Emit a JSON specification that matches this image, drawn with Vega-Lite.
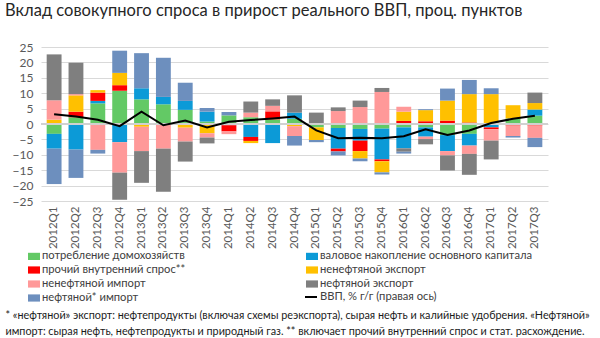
{
  "$schema": "https://vega.github.io/schema/vega-lite/v6.json",
  "width": 507,
  "height": 154,
  "autosize": {"type": "none"},
  "padding": {"left": 41, "top": 47, "right": 52, "bottom": 137},
  "background": "white",
  "config": {"view": {"stroke": null}, "font": "Lato", "axis": {"labelOverlap": false}},
  "title": {
    "text": "Вклад совокупного спроса в прирост реального ВВП, проц. пунктов",
    "anchor": "start",
    "frame": "group",
    "dx": -36,
    "offset": 22,
    "font": "Lato",
    "fontSize": 16.5,
    "fontWeight": "normal",
    "color": "#262626"
  },
  "datasets": {
    "bars": [
      {"q":"2012Q1","s":"потребление домохозяйств","v":-3.2},
      {"q":"2012Q1","s":"валовое накопление основного капитала","v":-4.8},
      {"q":"2012Q1","s":"ненефтяной экспорт","v":1.4},
      {"q":"2012Q1","s":"ненефтяной импорт","v":6.3},
      {"q":"2012Q1","s":"нефтяной экспорт","v":14.9},
      {"q":"2012Q1","s":"нефтяной* импорт","v":-11.5},
      {"q":"2012Q2","s":"потребление домохозяйств","v":2.2},
      {"q":"2012Q2","s":"валовое накопление основного капитала","v":-8.3},
      {"q":"2012Q2","s":"прочий внутренний спрос**","v":1.8},
      {"q":"2012Q2","s":"ненефтяной экспорт","v":5.3},
      {"q":"2012Q2","s":"ненефтяной импорт","v":0.4},
      {"q":"2012Q2","s":"нефтяной экспорт","v":10.2},
      {"q":"2012Q2","s":"нефтяной* импорт","v":-9.2},
      {"q":"2012Q3","s":"потребление домохозяйств","v":6.7},
      {"q":"2012Q3","s":"валовое накопление основного капитала","v":0.8},
      {"q":"2012Q3","s":"прочий внутренний спрос**","v":2.7},
      {"q":"2012Q3","s":"ненефтяной экспорт","v":0.8},
      {"q":"2012Q3","s":"ненефтяной импорт","v":-8.4},
      {"q":"2012Q3","s":"нефтяной* импорт","v":-1.2},
      {"q":"2012Q4","s":"потребление домохозяйств","v":10.8},
      {"q":"2012Q4","s":"валовое накопление основного капитала","v":-5.9},
      {"q":"2012Q4","s":"прочий внутренний спрос**","v":1.8},
      {"q":"2012Q4","s":"ненефтяной экспорт","v":4.0},
      {"q":"2012Q4","s":"ненефтяной импорт","v":-9.9},
      {"q":"2012Q4","s":"нефтяной экспорт","v":-8.8},
      {"q":"2012Q4","s":"нефтяной* импорт","v":7.2},
      {"q":"2013Q1","s":"потребление домохозяйств","v":8.0},
      {"q":"2013Q1","s":"валовое накопление основного капитала","v":3.6},
      {"q":"2013Q1","s":"ненефтяной экспорт","v":-0.9},
      {"q":"2013Q1","s":"ненефтяной импорт","v":-7.9},
      {"q":"2013Q1","s":"нефтяной экспорт","v":-10.3},
      {"q":"2013Q1","s":"нефтяной* импорт","v":11.4},
      {"q":"2013Q2","s":"потребление домохозяйств","v":6.4},
      {"q":"2013Q2","s":"валовое накопление основного капитала","v":2.4},
      {"q":"2013Q2","s":"ненефтяной импорт","v":-8.0},
      {"q":"2013Q2","s":"нефтяной экспорт","v":-14.0},
      {"q":"2013Q2","s":"нефтяной* импорт","v":12.7},
      {"q":"2013Q3","s":"потребление домохозяйств","v":4.6},
      {"q":"2013Q3","s":"валовое накопление основного капитала","v":2.9},
      {"q":"2013Q3","s":"ненефтяной экспорт","v":-1.2},
      {"q":"2013Q3","s":"ненефтяной импорт","v":-4.5},
      {"q":"2013Q3","s":"нефтяной экспорт","v":-6.5},
      {"q":"2013Q3","s":"нефтяной* импорт","v":5.9},
      {"q":"2013Q4","s":"потребление домохозяйств","v":0.8},
      {"q":"2013Q4","s":"валовое накопление основного капитала","v":3.2},
      {"q":"2013Q4","s":"ненефтяной экспорт","v":-3.0},
      {"q":"2013Q4","s":"ненефтяной импорт","v":-1.4},
      {"q":"2013Q4","s":"нефтяной экспорт","v":-1.9},
      {"q":"2013Q4","s":"нефтяной* импорт","v":1.2},
      {"q":"2014Q1","s":"потребление домохозяйств","v":2.8},
      {"q":"2014Q1","s":"валовое накопление основного капитала","v":-0.4},
      {"q":"2014Q1","s":"прочий внутренний спрос**","v":-2.0},
      {"q":"2014Q1","s":"ненефтяной импорт","v":-0.9},
      {"q":"2014Q1","s":"нефтяной* импорт","v":1.1},
      {"q":"2014Q2","s":"потребление домохозяйств","v":2.2},
      {"q":"2014Q2","s":"валовое накопление основного капитала","v":-4.2},
      {"q":"2014Q2","s":"прочий внутренний спрос**","v":-1.3},
      {"q":"2014Q2","s":"ненефтяной экспорт","v":-0.7},
      {"q":"2014Q2","s":"ненефтяной импорт","v":1.5},
      {"q":"2014Q2","s":"нефтяной экспорт","v":3.6},
      {"q":"2014Q3","s":"потребление домохозяйств","v":1.5},
      {"q":"2014Q3","s":"валовое накопление основного капитала","v":-6.2},
      {"q":"2014Q3","s":"прочий внутренний спрос**","v":2.6},
      {"q":"2014Q3","s":"ненефтяной импорт","v":1.8},
      {"q":"2014Q3","s":"нефтяной экспорт","v":2.1},
      {"q":"2014Q4","s":"потребление домохозяйств","v":1.7},
      {"q":"2014Q4","s":"валовое накопление основного капитала","v":2.0},
      {"q":"2014Q4","s":"прочий внутренний спрос**","v":-0.3},
      {"q":"2014Q4","s":"ненефтяной экспорт","v":-0.4},
      {"q":"2014Q4","s":"ненефтяной импорт","v":-3.2},
      {"q":"2014Q4","s":"нефтяной экспорт","v":5.6},
      {"q":"2014Q4","s":"нефтяной* импорт","v":-3.1},
      {"q":"2015Q1","s":"потребление домохозяйств","v":-1.1},
      {"q":"2015Q1","s":"валовое накопление основного капитала","v":0.2},
      {"q":"2015Q1","s":"ненефтяной экспорт","v":-4.1},
      {"q":"2015Q1","s":"нефтяной экспорт","v":3.5},
      {"q":"2015Q1","s":"нефтяной* импорт","v":-0.7},
      {"q":"2015Q2","s":"потребление домохозяйств","v":-1.3},
      {"q":"2015Q2","s":"валовое накопление основного капитала","v":-6.7},
      {"q":"2015Q2","s":"прочий внутренний спрос**","v":-0.9},
      {"q":"2015Q2","s":"ненефтяной импорт","v":4.2},
      {"q":"2015Q2","s":"нефтяной экспорт","v":1.2},
      {"q":"2015Q2","s":"нефтяной* импорт","v":-1.3},
      {"q":"2015Q3","s":"потребление домохозяйств","v":-1.6},
      {"q":"2015Q3","s":"валовое накопление основного капитала","v":-3.8},
      {"q":"2015Q3","s":"прочий внутренний спрос**","v":-3.4},
      {"q":"2015Q3","s":"ненефтяной экспорт","v":-2.4},
      {"q":"2015Q3","s":"ненефтяной импорт","v":5.5},
      {"q":"2015Q3","s":"нефтяной экспорт","v":2.1},
      {"q":"2015Q3","s":"нефтяной* импорт","v":-0.9},
      {"q":"2015Q4","s":"потребление домохозяйств","v":-1.5},
      {"q":"2015Q4","s":"валовое накопление основного капитала","v":-10.0},
      {"q":"2015Q4","s":"прочий внутренний спрос**","v":-0.6},
      {"q":"2015Q4","s":"ненефтяной экспорт","v":-3.6},
      {"q":"2015Q4","s":"ненефтяной импорт","v":10.4},
      {"q":"2015Q4","s":"нефтяной экспорт","v":1.3},
      {"q":"2015Q4","s":"нефтяной* импорт","v":-0.7},
      {"q":"2016Q1","s":"потребление домохозяйств","v":-1.1},
      {"q":"2016Q1","s":"валовое накопление основного капитала","v":-6.8},
      {"q":"2016Q1","s":"прочий внутренний спрос**","v":1.0},
      {"q":"2016Q1","s":"ненефтяной экспорт","v":3.0},
      {"q":"2016Q1","s":"ненефтяной импорт","v":1.6},
      {"q":"2016Q1","s":"нефтяной экспорт","v":-1.1},
      {"q":"2016Q1","s":"нефтяной* импорт","v":-0.6},
      {"q":"2016Q2","s":"потребление домохозяйств","v":-1.1},
      {"q":"2016Q2","s":"валовое накопление основного капитала","v":-3.0},
      {"q":"2016Q2","s":"прочий внутренний спрос**","v":0.9},
      {"q":"2016Q2","s":"ненефтяной экспорт","v":3.6},
      {"q":"2016Q2","s":"ненефтяной импорт","v":-0.8},
      {"q":"2016Q2","s":"нефтяной экспорт","v":-1.7},
      {"q":"2016Q2","s":"нефтяной* импорт","v":0.3},
      {"q":"2016Q3","s":"потребление домохозяйств","v":-3.6},
      {"q":"2016Q3","s":"валовое накопление основного капитала","v":-5.2},
      {"q":"2016Q3","s":"прочий внутренний спрос**","v":1.1},
      {"q":"2016Q3","s":"ненефтяной экспорт","v":6.5},
      {"q":"2016Q3","s":"ненефтяной импорт","v":-1.4},
      {"q":"2016Q3","s":"нефтяной экспорт","v":-4.9},
      {"q":"2016Q3","s":"нефтяной* импорт","v":3.9},
      {"q":"2016Q4","s":"потребление домохозяйств","v":-3.2},
      {"q":"2016Q4","s":"валовое накопление основного капитала","v":-3.8},
      {"q":"2016Q4","s":"прочий внутренний спрос**","v":0.5},
      {"q":"2016Q4","s":"ненефтяной экспорт","v":9.2},
      {"q":"2016Q4","s":"ненефтяной импорт","v":-2.7},
      {"q":"2016Q4","s":"нефтяной экспорт","v":-6.8},
      {"q":"2016Q4","s":"нефтяной* импорт","v":4.6},
      {"q":"2017Q1","s":"потребление домохозяйств","v":0.2},
      {"q":"2017Q1","s":"валовое накопление основного капитала","v":-1.1},
      {"q":"2017Q1","s":"прочий внутренний спрос**","v":-0.6},
      {"q":"2017Q1","s":"ненефтяной экспорт","v":9.5},
      {"q":"2017Q1","s":"ненефтяной импорт","v":-3.7},
      {"q":"2017Q1","s":"нефтяной экспорт","v":-6.1},
      {"q":"2017Q1","s":"нефтяной* импорт","v":1.9},
      {"q":"2017Q2","s":"потребление домохозяйств","v":1.8},
      {"q":"2017Q2","s":"прочий внутренний спрос**","v":-0.5},
      {"q":"2017Q2","s":"ненефтяной экспорт","v":4.3},
      {"q":"2017Q2","s":"ненефтяной импорт","v":-3.4},
      {"q":"2017Q2","s":"нефтяной* импорт","v":-0.5},
      {"q":"2017Q3","s":"потребление домохозяйств","v":2.7},
      {"q":"2017Q3","s":"валовое накопление основного капитала","v":2.0},
      {"q":"2017Q3","s":"прочий внутренний спрос**","v":-0.5},
      {"q":"2017Q3","s":"ненефтяной экспорт","v":2.1},
      {"q":"2017Q3","s":"ненефтяной импорт","v":-4.0},
      {"q":"2017Q3","s":"нефтяной экспорт","v":3.4},
      {"q":"2017Q3","s":"нефтяной* импорт","v":-3.0}
    ],
    "gdp": [
      {"q":"2012Q1","s":"ВВП, % г/г (правая ось)","v":3.2},
      {"q":"2012Q2","s":"ВВП, % г/г (правая ось)","v":2.4},
      {"q":"2012Q3","s":"ВВП, % г/г (правая ось)","v":1.4},
      {"q":"2012Q4","s":"ВВП, % г/г (правая ось)","v":-0.7},
      {"q":"2013Q1","s":"ВВП, % г/г (правая ось)","v":4.0},
      {"q":"2013Q2","s":"ВВП, % г/г (правая ось)","v":-0.4},
      {"q":"2013Q3","s":"ВВП, % г/г (правая ось)","v":1.1},
      {"q":"2013Q4","s":"ВВП, % г/г (правая ось)","v":-1.1},
      {"q":"2014Q1","s":"ВВП, % г/г (правая ось)","v":0.7},
      {"q":"2014Q2","s":"ВВП, % г/г (правая ось)","v":1.3},
      {"q":"2014Q3","s":"ВВП, % г/г (правая ось)","v":1.8},
      {"q":"2014Q4","s":"ВВП, % г/г (правая ось)","v":2.4},
      {"q":"2015Q1","s":"ВВП, % г/г (правая ось)","v":-2.1},
      {"q":"2015Q2","s":"ВВП, % г/г (правая ось)","v":-4.6},
      {"q":"2015Q3","s":"ВВП, % г/г (правая ось)","v":-4.5},
      {"q":"2015Q4","s":"ВВП, % г/г (правая ось)","v":-4.6},
      {"q":"2016Q1","s":"ВВП, % г/г (правая ось)","v":-4.0},
      {"q":"2016Q2","s":"ВВП, % г/г (правая ось)","v":-1.7},
      {"q":"2016Q3","s":"ВВП, % г/г (правая ось)","v":-3.6},
      {"q":"2016Q4","s":"ВВП, % г/г (правая ось)","v":-2.1},
      {"q":"2017Q1","s":"ВВП, % г/г (правая ось)","v":0.3},
      {"q":"2017Q2","s":"ВВП, % г/г (правая ось)","v":1.7},
      {"q":"2017Q3","s":"ВВП, % г/г (правая ось)","v":2.7}
    ]
  },
  "layer": [
    {
      "data": {"name": "bars"},
      "transform": [
        {"calculate": "indexof(['потребление домохозяйств', 'валовое накопление основного капитала', 'прочий внутренний спрос**', 'ненефтяной экспорт', 'ненефтяной импорт', 'нефтяной экспорт', 'нефтяной* импорт'], datum.s)", "as": "o"}
      ],
      "mark": {"type": "bar"},
      "encoding": {
        "x": {
          "field": "q",
          "type": "ordinal",
          "scale": {"paddingInner": 0.32, "paddingOuter": 0.26},
          "axis": {
            "labelAngle": -90,
            "labelFontSize": 11.5,
            "labelColor": "#595959",
            "labelPadding": 5,
            "domain": false,
            "ticks": false,
            "title": [
              "* «нефтяной» экспорт: нефтепродукты (включая схемы реэкспорта), сырая нефть и калийные удобрения. «Нефтяной»",
              "импорт: сырая нефть, нефтепродукты и природный газ. ** включает прочий внутренний спрос и стат. расхождение."
            ],
            "titleX": -36,
            "titleY": 117,
            "titleAnchor": "start",
            "titleAlign": "left",
            "titleBaseline": "alphabetic",
            "titleFontSize": 10.8,
            "titleFontWeight": "normal",
            "titleColor": "#1a1a1a",
            "titleLineHeight": 16
          }
        },
        "y": {
          "field": "v",
          "type": "quantitative",
          "stack": "zero",
          "scale": {"domain": [-25, 25], "nice": false},
          "axis": {
            "values": [-25, -20, -15, -10, -5, 0, 5, 10, 15, 20, 25],
            "tickCount": 11,
            "grid": true,
            "gridColor": "#D9D9D9",
            "domain": false,
            "ticks": false,
            "labelOverlap": false,
            "labelFontSize": 12,
            "labelColor": "#595959",
            "labelPadding": 8,
            "title": null
          }
        },
        "order": {"field": "o", "type": "quantitative"},
        "color": {
          "field": "s",
          "type": "nominal",
          "scale": {
            "domain": ["потребление домохозяйств", "валовое накопление основного капитала", "прочий внутренний спрос**", "ненефтяной экспорт", "ненефтяной импорт", "нефтяной экспорт", "нефтяной* импорт"],
            "range": ["#63C965", "#0C9AD7", "#FF0000", "#FFC000", "#FF9999", "#7F7F7F", "#6D8FBE"]
          },
          "legend": {
            "orient": "none",
            "direction": "horizontal",
            "legendX": -13,
            "legendY": 203,
            "columns": 2,
            "columnPadding": 120,
            "rowPadding": 2,
            "title": null,
            "symbolType": "M-1,-0.6H1V0.6H-1Z",
            "symbolSize": 144,
            "symbolStrokeWidth": 0,
            "labelFontSize": 11.2,
            "labelColor": "#404040",
            "labelOffset": 2,
            "labelLimit": 300
          }
        }
      }
    },
    {
      "data": {"name": "gdp"},
      "mark": {"type": "rule", "color": "#D0D0D0", "strokeWidth": 1, "opacity": 0.9},
      "encoding": {"y": {"datum": 0}}
    },
    {
      "data": {"name": "gdp"},
      "mark": {"type": "line", "strokeWidth": 2},
      "encoding": {
        "x": {"field": "q", "type": "ordinal"},
        "y": {"field": "v", "type": "quantitative"},
        "stroke": {
          "field": "s",
          "type": "nominal",
          "scale": {"range": ["#000000"]},
          "legend": {
            "orient": "none",
            "legendX": 263,
            "legendY": 243,
            "title": null,
            "symbolType": "stroke",
            "symbolSize": 144,
            "symbolStrokeWidth": 2,
            "labelFontSize": 11.2,
            "labelColor": "#404040",
            "labelOffset": 2
          }
        }
      }
    }
  ]
}
